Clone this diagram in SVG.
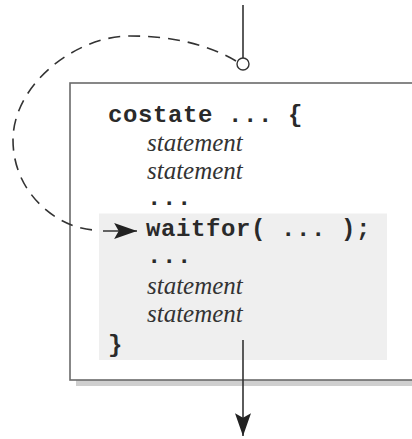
<svg xmlns="http://www.w3.org/2000/svg" width="412" height="439" viewBox="0 0 412 439">
  <style>
    .code { font-family: "Liberation Mono", "DejaVu Sans Mono", monospace; font-weight: bold; font-size: 24px; letter-spacing: 0.6px; fill: #2a2a2a; }
    .stmt { font-family: "Liberation Serif", "Times New Roman", serif; font-style: italic; font-size: 25px; fill: #333; }
    .conn { fill: none; stroke: #333; stroke-width: 1.6; }
    .dash { stroke-dasharray: 12 8; }
  </style>
  <defs>
    <marker id="arrow" viewBox="0 0 20 14" refX="20" refY="7" markerWidth="23" markerHeight="16" markerUnits="userSpaceOnUse" orient="auto">
      <path d="M0,0 L20,7 L0,14 L4,7 Z" fill="#222"/>
    </marker>
  </defs>
  <rect width="412" height="439" fill="#ffffff"/>

  <g id="costate-block">
    <rect x="76" y="380" width="340" height="6" fill="#cfcfcf"/>
    <rect x="70" y="83" width="345" height="297" fill="#ffffff" stroke="#6a6a6a" stroke-width="1.6"/>
    <rect x="99" y="213.5" width="288" height="146.5" fill="#efefef"/>
    <text class="code" x="108" y="122">costate ... {</text>
    <text class="stmt" x="147" y="151">statement</text>
    <text class="stmt" x="147" y="179">statement</text>
    <text class="code" x="147" y="205">...</text>
    <text class="code" x="146" y="236">waitfor( ... );</text>
    <text class="code" x="147" y="263">...</text>
    <text class="stmt" x="147" y="294">statement</text>
    <text class="stmt" x="147" y="322">statement</text>
    <text class="code" x="108" y="352">}</text>
  </g>

  <g id="connectors">
    <line class="conn" x1="243" y1="5" x2="243" y2="58"/>
    <circle cx="243" cy="64" r="6" fill="#ffffff" stroke="#333" stroke-width="1.4"/>
    <path class="conn dash" d="M 236 61 C 200 40, 160 36, 130 36 C 75 36, 13 85, 13 140 C 13 195, 60 229, 95 230"/>
    <line class="conn" x1="103" y1="231" x2="137" y2="231" marker-end="url(#arrow)"/>
    <line class="conn" x1="243" y1="340" x2="243" y2="436" marker-end="url(#arrow)"/>
  </g>
</svg>
